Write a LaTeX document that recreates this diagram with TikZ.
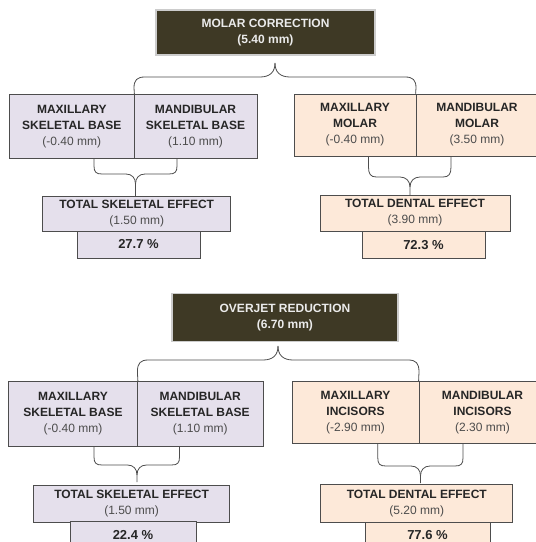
\documentclass[tikz,border=0pt]{standalone}
\usepackage{fontspec}
\setmainfont{Liberation Sans}
\usepackage{tikz}

\definecolor{headfill}{HTML}{3E3925}
\definecolor{skelfill}{HTML}{E5E0EC}
\definecolor{dentfill}{HTML}{FDE9D9}
\definecolor{edge}{HTML}{4D4D4D}
\newcommand{\mmval}[1]{{\mdseries\color{black!70}#1}}

\begin{document}
\begin{tikzpicture}[x=1pt,y=-1pt]
	\tikzstyle{box}=[draw=edge,line width=0.8pt,inner sep=0pt,align=center,text=black!85,font=\fontsize{12}{16}\selectfont\bfseries]
	\tikzstyle{headbox}=[box,fill=headfill,draw=black!20,line width=1.6pt,text=white!92!black]
	\tikzstyle{skelbox}=[box,fill=skelfill]
	\tikzstyle{dentbox}=[box,fill=dentfill]
	\tikzstyle{pctbox}=[font=\fontsize{13}{16}\selectfont\bfseries]
	\tikzstyle{curly}=[draw=edge,line width=0.8pt]
	\useasboundingbox (0,0) rectangle (536,542);
	% molar correction
	\node[headbox,minimum width=219pt,minimum height=45pt] (mc) at (265.5,32.5) {MOLAR CORRECTION\\(5.40 mm)};
	\node[skelbox,minimum width=124.4pt,minimum height=63.5pt] (a1) at (71.8,126.2) {MAXILLARY\\SKELETAL BASE\\\mmval{(-0.40 mm)}};
	\node[skelbox,minimum width=123pt,minimum height=63.5pt] (a2) at (195.5,126.2) {MANDIBULAR\\SKELETAL BASE\\\mmval{(1.10 mm)}};
	\node[dentbox,minimum width=122pt,minimum height=62pt] (a3) at (355,125) {MAXILLARY\\MOLAR\\\mmval{(-0.40 mm)}};
	\node[dentbox,minimum width=122pt,minimum height=62pt] (a4) at (477,125) {MANDIBULAR\\MOLAR\\\mmval{(3.50 mm)}};
	\node[skelbox,minimum width=188pt,minimum height=35pt] (t1) at (136.7,213.5) {TOTAL SKELETAL EFFECT\\\mmval{(1.50 mm)}};
	\node[skelbox,pctbox,minimum width=123pt,minimum height=27pt] (p1) at (138.5,244.5) {27.7 \%};
	\node[dentbox,minimum width=190pt,minimum height=36pt] (t2) at (415,213) {TOTAL DENTAL EFFECT\\\mmval{(3.90 mm)}};
	\node[dentbox,pctbox,minimum width=123pt,minimum height=27pt] (p2) at (423.5,245) {72.3 \%};
	\coordinate (k1) at (275,63);
	\coordinate (l1) at (94,158);
	\coordinate (r1) at (177,158);
	\coordinate (s1) at (135.5,184);
	\coordinate (k2) at (135.5,196);
	\coordinate (l2) at (368.5,156);
	\coordinate (r2) at (451,156);
	\coordinate (s2) at (410,187);
	\coordinate (k3) at (410,195);
	\draw[curly] (a1.north east) -- (134,88) .. controls (134,80) and (137,77) .. (145,77) -- (260,77) .. controls (270,77) and (275,72) .. (k1);
	\draw[curly] (a4.north west) -- (416,88) .. controls (416,80) and (413,77) .. (405,77) -- (290,77) .. controls (280,77) and (275,72) .. (k1);
	\draw[curly] (l1) -- (94,166) .. controls (94,172) and (96,174) .. (102,174) -- (126,174) .. controls (132,174) and (135.5,178) .. (s1) -- (k2);
	\draw[curly] (r1) -- (177,166) .. controls (177,172) and (175,174) .. (169,174) -- (145,174) .. controls (139,174) and (135.5,178) .. (s1);
	\draw[curly] (l2) -- (368.5,167) .. controls (368.5,174) and (370.5,177) .. (376.5,177) -- (400,177) .. controls (406,177) and (410,181) .. (s2) -- (k3);
	\draw[curly] (r2) -- (451,167) .. controls (451,174) and (449,177) .. (443,177) -- (420,177) .. controls (414,177) and (410,181) .. (s2);
	% overjet reduction
	\node[headbox,minimum width=226pt,minimum height=48pt] (oj) at (285,317.6) {OVERJET REDUCTION\\(6.70 mm)};
	\node[skelbox,minimum width=129pt,minimum height=65pt] (b1) at (73,414) {MAXILLARY\\SKELETAL BASE\\\mmval{(-0.40 mm)}};
	\node[skelbox,minimum width=125.6pt,minimum height=65pt] (b2) at (200.2,414) {MANDIBULAR\\SKELETAL BASE\\\mmval{(1.10 mm)}};
	\node[dentbox,minimum width=127pt,minimum height=62pt] (b3) at (355.5,412.5) {MAXILLARY\\INCISORS\\\mmval{(-2.90 mm)}};
	\node[dentbox,minimum width=127pt,minimum height=62pt] (b4) at (482.5,412.5) {MANDIBULAR\\INCISORS\\\mmval{(2.30 mm)}};
	\node[skelbox,minimum width=196pt,minimum height=37pt] (t3) at (131.6,503.5) {TOTAL SKELETAL EFFECT\\\mmval{(1.50 mm)}};
	\node[skelbox,pctbox,minimum width=126pt,minimum height=27pt] (p3) at (133,535) {22.4 \%};
	\node[dentbox,minimum width=192pt,minimum height=38.7pt] (t4) at (416.75,503.3) {TOTAL DENTAL EFFECT\\\mmval{(5.20 mm)}};
	\node[dentbox,pctbox,minimum width=125pt,minimum height=27pt] (p4) at (427.5,535.5) {77.6 \%};
	\coordinate (k4) at (278,346);
	\coordinate (l3) at (94,446.8);
	\coordinate (r3) at (179.5,446.8);
	\coordinate (s3) at (137,475);
	\coordinate (k5) at (137,482);
	\coordinate (l4) at (377.8,443.4);
	\coordinate (r4) at (463,443.4);
	\coordinate (s4) at (420.5,476);
	\coordinate (k6) at (420.5,483);
	\draw[curly] (b1.north east) -- (137.4,372) .. controls (137.4,363) and (140.4,360) .. (148.4,360) -- (263,360) .. controls (273,360) and (278,355) .. (k4);
	\draw[curly] (b4.north west) -- (419,372) .. controls (419,363) and (416,360) .. (408,360) -- (293,360) .. controls (283,360) and (278,355) .. (k4);
	\draw[curly] (l3) -- (94,457) .. controls (94,463) and (96,465) .. (102,465) -- (127.5,465) .. controls (133.5,465) and (137,469) .. (s3) -- (k5);
	\draw[curly] (r3) -- (179.5,457) .. controls (179.5,463) and (177.5,465) .. (171.5,465) -- (146.5,465) .. controls (140.5,465) and (137,469) .. (s3);
	\draw[curly] (l4) -- (377.8,458) .. controls (377.8,464) and (379.8,466) .. (385.8,466) -- (411,466) .. controls (417,466) and (420.5,470) .. (s4) -- (k6);
	\draw[curly] (r4) -- (463,458) .. controls (463,464) and (461,466) .. (455,466) -- (430,466) .. controls (424,466) and (420.5,470) .. (s4);
\end{tikzpicture}
\end{document}
